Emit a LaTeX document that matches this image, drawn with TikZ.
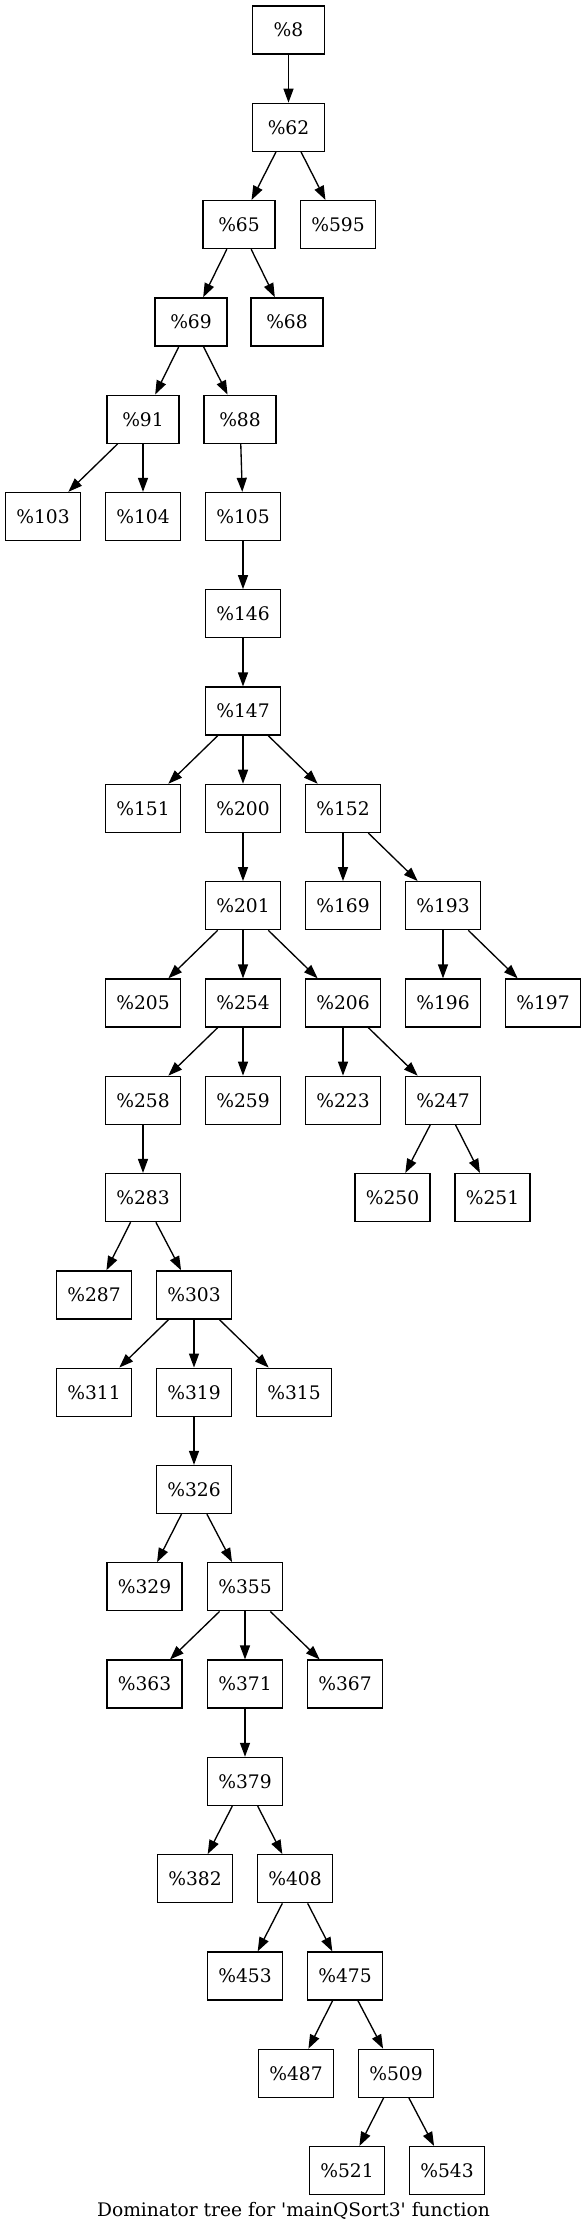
\documentclass[tikz,border=0pt]{standalone}
\usepackage{fontspec}
\setmainfont{DejaVu Serif}
\newfontfamily\capfont{DejaVu Serif}[Ligatures=ResetAll]
\usetikzlibrary{arrows.meta}
\begin{document}
\begin{tikzpicture}[x=0.75pt,y=-0.75pt,
  box/.style={draw, line width=1pt, minimum width=54pt, minimum height=36pt,
    inner xsep=8pt, inner ysep=0pt, font=\fontsize{14pt}{16pt}\selectfont},
  edge/.style={line width=1pt, -{Triangle[length=10.5pt,width=7.5pt]}}]
\useasboundingbox (0,0) rectangle (587,2232);
\def\rk#1{{30+97.3*#1}}
% rank 0-1
\node[box] (n8)   at (288.5,\rk{0}) {\%8};
\node[box] (n62)  at (288.5,\rk{1}) {\%62};
% rank 2
\node[box] (n65)  at (239,\rk{2}) {\%65};
\node[box] (n595) at (338,\rk{2}) {\%595};
% rank 3
\node[box] (n69)  at (191,\rk{3}) {\%69};
\node[box] (n68)  at (287,\rk{3}) {\%68};
% rank 4
\node[box] (n91)  at (143,\rk{4}) {\%91};
\node[box] (n88)  at (240,\rk{4}) {\%88};
% rank 5
\node[box] (n103) at (43,\rk{5}) {\%103};
\node[box] (n104) at (143,\rk{5}) {\%104};
\node[box] (n105) at (243,\rk{5}) {\%105};
% rank 6-7
\node[box] (n146) at (243,\rk{6}) {\%146};
\node[box] (n147) at (243,\rk{7}) {\%147};
% rank 8
\node[box] (n151) at (143,\rk{8}) {\%151};
\node[box] (n200) at (243,\rk{8}) {\%200};
\node[box] (n152) at (343,\rk{8}) {\%152};
% rank 9
\node[box] (n201) at (243,\rk{9}) {\%201};
\node[box] (n169) at (343,\rk{9}) {\%169};
\node[box] (n193) at (443,\rk{9}) {\%193};
% rank 10
\node[box] (n205) at (143,\rk{10}) {\%205};
\node[box] (n254) at (243,\rk{10}) {\%254};
\node[box] (n206) at (343,\rk{10}) {\%206};
\node[box] (n196) at (443,\rk{10}) {\%196};
\node[box] (n197) at (543,\rk{10}) {\%197};
% rank 11
\node[box] (n258) at (143,\rk{11}) {\%258};
\node[box] (n259) at (243,\rk{11}) {\%259};
\node[box] (n223) at (343,\rk{11}) {\%223};
\node[box] (n247) at (443,\rk{11}) {\%247};
% rank 12
\node[box] (n283) at (143,\rk{12}) {\%283};
\node[box] (n250) at (392.5,\rk{12}) {\%250};
\node[box] (n251) at (492.5,\rk{12}) {\%251};
% rank 13
\node[box] (n287) at (94,\rk{13}) {\%287};
\node[box] (n303) at (194,\rk{13}) {\%303};
% rank 14
\node[box] (n311) at (94,\rk{14}) {\%311};
\node[box] (n319) at (194,\rk{14}) {\%319};
\node[box] (n315) at (294,\rk{14}) {\%315};
% rank 15
\node[box] (n326) at (194,\rk{15}) {\%326};
% rank 16
\node[box] (n329) at (144.5,\rk{16}) {\%329};
\node[box] (n355) at (245,\rk{16}) {\%355};
% rank 17
\node[box] (n363) at (144.5,\rk{17}) {\%363};
\node[box] (n371) at (245,\rk{17}) {\%371};
\node[box] (n367) at (345,\rk{17}) {\%367};
% rank 18
\node[box] (n379) at (245,\rk{18}) {\%379};
% rank 19
\node[box] (n382) at (195,\rk{19}) {\%382};
\node[box] (n408) at (295,\rk{19}) {\%408};
% rank 20
\node[box] (n453) at (245,\rk{20}) {\%453};
\node[box] (n475) at (345,\rk{20}) {\%475};
% rank 21
\node[box] (n487) at (296,\rk{21}) {\%487};
\node[box] (n509) at (396,\rk{21}) {\%509};
% rank 22
\node[box] (n521) at (347,\rk{22}) {\%521};
\node[box] (n543) at (447,\rk{22}) {\%543};
% caption
\node[anchor=base, inner sep=0pt, font=\capfont\fontsize{14pt}{16pt}\selectfont] (cap) at (293.5,2216) {Dominator tree for 'mainQSort3' function};
% edges
\foreach \a/\b in {n8/n62, n62/n65, n62/n595, n65/n69, n65/n68, n69/n91, n69/n88,
  n91/n103, n91/n104, n88/n105, n105/n146, n146/n147, n147/n151, n147/n200, n147/n152,
  n200/n201, n152/n169, n152/n193, n201/n205, n201/n254, n201/n206, n193/n196, n193/n197,
  n254/n258, n254/n259, n206/n223, n206/n247, n258/n283, n247/n250, n247/n251,
  n283/n287, n283/n303, n303/n311, n303/n319, n303/n315, n319/n326, n326/n329, n326/n355,
  n355/n363, n355/n371, n355/n367, n371/n379, n379/n382, n379/n408, n408/n453, n408/n475,
  n475/n487, n475/n509, n509/n521, n509/n543}
  \draw[edge] (\a) -- (\b);
\end{tikzpicture}
\end{document}
